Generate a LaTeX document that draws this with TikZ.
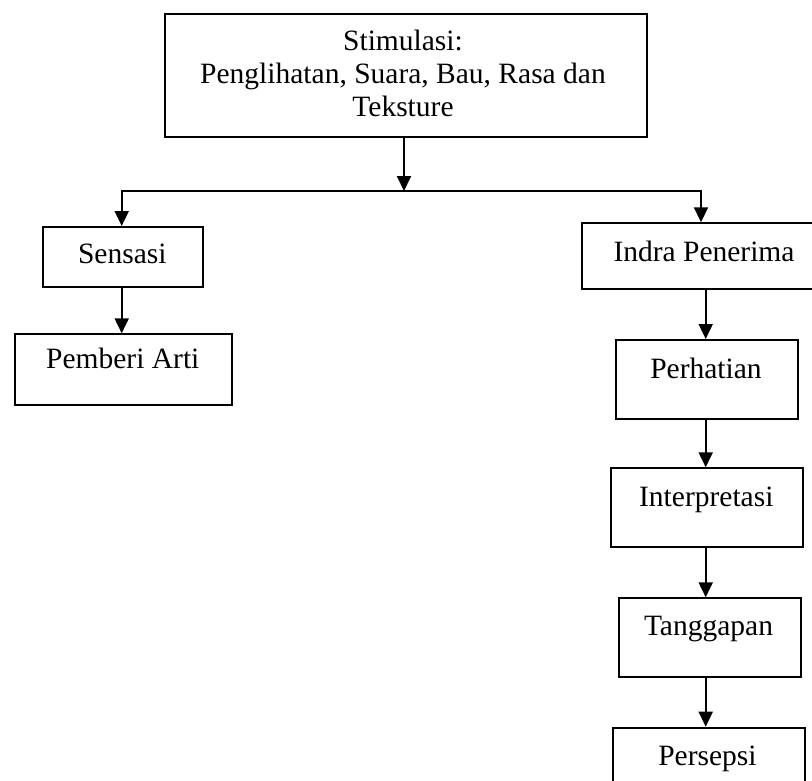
\documentclass[tikz,border=0pt]{standalone}
\usepackage{fontspec}
\setmainfont{Liberation Serif}
\usetikzlibrary{arrows.meta}
\begin{document}
\begin{tikzpicture}[x=1pt,y=-1pt,
  box/.style={draw, line width=1.9pt, inner sep=0pt, anchor=north west},
  lbl/.style={font=\fontsize{29.5}{33}\selectfont, inner sep=0pt, anchor=base},
  arr/.style={line width=1.9pt, -{Triangle[length=15pt,width=14pt]}},
  ln/.style={line width=1.9pt}]
\useasboundingbox (0,0) rectangle (812,780);
\clip (0,0) rectangle (812,780);
% boxes
\node[box, minimum width=482pt, minimum height=123.3pt] (top) at (164,12.7) {};
\node[box, minimum width=159.4pt, minimum height=60pt] (sens) at (42.3,226) {};
\node[box, minimum width=216.7pt, minimum height=70.7pt] (pemb) at (14,333.3) {};
\node[box, minimum width=260pt, minimum height=65.4pt] (indra) at (580.7,222.3) {};
\node[box, minimum width=182.3pt, minimum height=78.7pt] (perh) at (615,339) {};
\node[box, minimum width=192.3pt, minimum height=78.4pt] (interp) at (610,467.3) {};
\node[box, minimum width=182.3pt, minimum height=78.4pt] (tangg) at (617.7,597.3) {};
\node[box, minimum width=192.3pt, minimum height=80pt] (pers) at (611.7,726.7) {};
% texts
\node[lbl, anchor=north, align=center] (tTop) at (403,30.3) {Stimulasi:\\Penglihatan, Suara, Bau, Rasa dan\\Teksture};
\node[lbl] (tSens) at (122.3,263.3) {Sensasi};
\node[lbl] (tPemb) at (122.8,368.3) {Pemberi Arti};
\node[lbl, anchor=base west] (tIndra) at (613.3,261) {Indra Penerima};
\node[lbl] (tPerh) at (706,378.3) {Perhatian};
\node[lbl] (tInterp) at (706.3,506.7) {Interpretasi};
\node[lbl] (tTangg) at (708.5,635) {Tanggapan};
\node[lbl] (tPers) at (707.5,765) {Persepsi};
% junctions
\coordinate (jM) at (404,191);
\coordinate (jL) at (121.7,191);
\coordinate (jR) at (701,191);
\coordinate (col) at (705.7,0);
% connectors
\draw[arr] (top.south -| jM) -- (jM);
\draw[ln, line cap=rect] (jL) -- (jR);
\draw[arr] (jL) -- (jL |- sens.north);
\draw[arr] (jR) -- (jR |- indra.north);
\draw[arr] (sens.south -| jL) -- (jL |- pemb.north);
\draw[arr] (indra.south -| col) -- (col |- perh.north);
\draw[arr] (perh.south -| col) -- (col |- interp.north);
\draw[arr] (interp.south -| col) -- (col |- tangg.north);
\draw[arr] (tangg.south -| col) -- (col |- pers.north);
\end{tikzpicture}
\end{document}
